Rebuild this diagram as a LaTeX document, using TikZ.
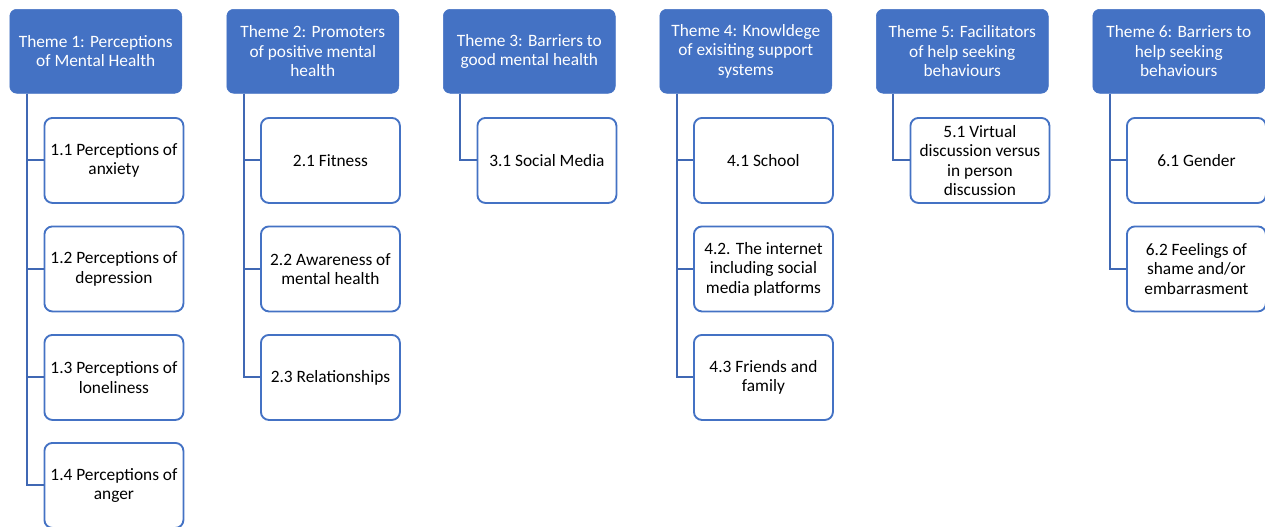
\documentclass[tikz,border=0pt]{standalone}
\usepackage{fontspec}
\setmainfont{Carlito}
\definecolor{themeblue}{HTML}{4472C4}
\definecolor{linkblue}{HTML}{4068B4}
\begin{document}
\begin{tikzpicture}[x=0.75pt,y=-0.75pt,
  theme/.style={draw=themeblue,fill=themeblue,rounded corners=7pt*0.75,
    minimum width=172*0.75pt,minimum height=84*0.75pt,inner sep=0pt,
    align=center,text=white,font=\fontsize{13}{14.6}\selectfont,anchor=north west},
  sub/.style={draw=themeblue,line width=1.4pt,fill=white,rounded corners=8pt*0.75,
    minimum width=139*0.75pt,minimum height=85*0.75pt,inner sep=0pt,
    align=center,text=black,font=\fontsize{13}{14.6}\selectfont,anchor=north west},
  link/.style={draw=linkblue,line width=1.5pt}]
\useasboundingbox (0,0) rectangle (1265,526);
% themes
\node[theme] (t1) at (9.5,9) {Theme 1: Perceptions\\of Mental Health};
\node[theme] (t2) at (226.5,9) {Theme 2: Promoters\\of positive mental\\health};
\node[theme] (t3) at (443,9) {Theme 3: Barriers to\\good mental health};
\node[theme] (t4) at (659.5,9) {Theme 4: Knowldege\\of exisiting support\\systems};
\node[theme] (t5) at (876,9) {Theme 5: Facilitators\\of help seeking\\behaviours};
\node[theme] (t6) at (1092.5,9) {Theme 6: Barriers to\\help seeking\\behaviours};
% children theme 1
\node[sub] (c11) at (43.5,117) {1.1 Perceptions of\\anxiety};
\node[sub] (c12) at (43.5,225.5) {1.2 Perceptions of\\depression};
\node[sub] (c13) at (43.5,334) {1.3 Perceptions of\\loneliness};
\node[sub] (c14) at (43.5,442) {1.4 Perceptions of\\anger};
% theme 2
\node[sub] (c21) at (260,117) {2.1 Fitness};
\node[sub] (c22) at (260,225.5) {2.2 Awareness of\\mental health};
\node[sub] (c23) at (260,334) {2.3 Relationships};
% theme 3
\node[sub] (c31) at (476.5,117) {3.1 Social Media};
% theme 4
\node[sub] (c41) at (693,117) {4.1 School};
\node[sub] (c42) at (693,225.5) {4.2. The internet\\including social\\media platforms};
\node[sub] (c43) at (693,334) {4.3 Friends and\\family};
% theme 5
\node[sub] (c51) at (909.5,117) {5.1 Virtual\\discussion versus\\in person\\discussion};
% theme 6
\node[sub] (c61) at (1126,117) {6.1 Gender};
\node[sub] (c62) at (1126,225.5) {6.2 Feelings of\\shame and/or\\embarrasment};
% connectors
\foreach \t/\c in {t1/c11,t1/c12,t1/c13,t1/c14,t2/c21,t2/c22,t2/c23,t3/c31,t4/c41,t4/c42,t4/c43,t5/c51,t6/c61,t6/c62}{
  \draw[link] ([xshift=17*0.75pt]\t.south west) |- (\c.west);
}
\end{tikzpicture}
\end{document}
